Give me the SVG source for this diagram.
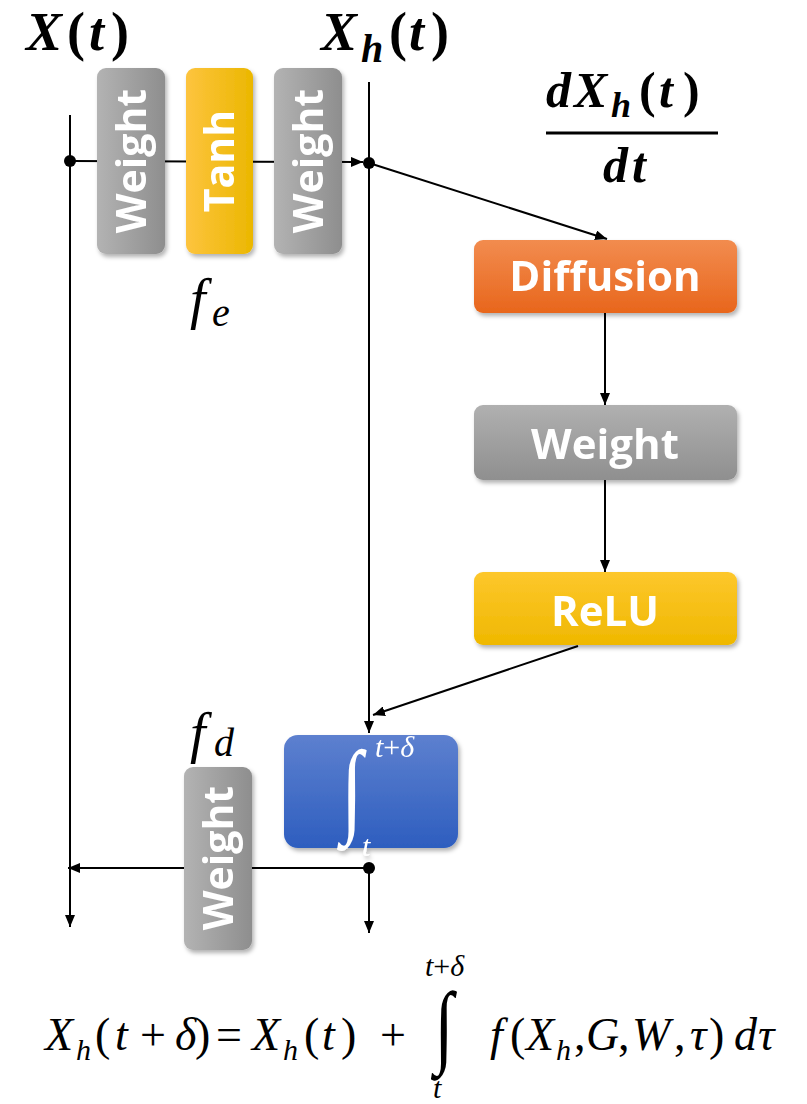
<svg xmlns="http://www.w3.org/2000/svg" width="807" height="1104" viewBox="0 0 807 1104">
<style>
.ln{stroke:#000;stroke-width:2;fill:none}
.lbl{font-family:"Open Sans","Noto Sans",sans-serif;font-weight:bold;fill:#fff}
.math{font-family:"Liberation Serif",serif;font-style:italic;fill:#000}
.mb{font-family:"Liberation Serif",serif;font-style:italic;font-weight:bold;fill:#000}
.rb{font-family:"Liberation Serif",serif;font-weight:bold;fill:#000}
.rm{font-family:"Liberation Serif",serif;fill:#000}
</style>
<defs>
<marker id="ah" viewBox="0 0 12 10" refX="12" refY="5" markerWidth="12" markerHeight="10" markerUnits="userSpaceOnUse" orient="auto">
<path d="M0,0 L12,5 L0,10 z" fill="#000"/>
</marker>
<filter id="sh" x="-20%" y="-20%" width="150%" height="150%">
<feDropShadow dx="2" dy="3" stdDeviation="2" flood-color="#000" flood-opacity="0.3"/>
</filter>
<linearGradient id="gv" x1="0" y1="0" x2="1" y2="0"><stop offset="0" stop-color="#b3b3b3"/><stop offset="1" stop-color="#8e8e8e"/></linearGradient>
<linearGradient id="gh" x1="0" y1="0" x2="0" y2="1"><stop offset="0" stop-color="#b0b0b0"/><stop offset="1" stop-color="#8f8f8f"/></linearGradient>
<linearGradient id="tanh" x1="0" y1="0" x2="1" y2="0"><stop offset="0" stop-color="#fdc43f"/><stop offset="1" stop-color="#ebb700"/></linearGradient>
<linearGradient id="relu" x1="0" y1="0" x2="0" y2="1"><stop offset="0" stop-color="#fdc72c"/><stop offset="1" stop-color="#efb800"/></linearGradient>
<linearGradient id="diff" x1="0" y1="0" x2="0" y2="1"><stop offset="0" stop-color="#f28c4f"/><stop offset="1" stop-color="#e8661c"/></linearGradient>
<linearGradient id="integ" x1="0" y1="0" x2="0" y2="1"><stop offset="0" stop-color="#5d80cf"/><stop offset="1" stop-color="#2e5ebf"/></linearGradient>
</defs>
<rect width="807" height="1104" fill="#fff"/>

<g id="connectors">
<line class="ln" x1="70" y1="115" x2="70" y2="927" marker-end="url(#ah)"/>
<line class="ln" x1="70" y1="161" x2="363" y2="162" marker-end="url(#ah)"/>
<line class="ln" x1="369" y1="82" x2="369" y2="733" marker-end="url(#ah)"/>
<line class="ln" x1="369" y1="163" x2="607" y2="239" marker-end="url(#ah)"/>
<line class="ln" x1="605" y1="313" x2="605" y2="405" marker-end="url(#ah)"/>
<line class="ln" x1="605" y1="480" x2="605" y2="572" marker-end="url(#ah)"/>
<line class="ln" x1="578" y1="646" x2="373" y2="715" marker-end="url(#ah)"/>
<line class="ln" x1="369" y1="868" x2="369" y2="933" marker-end="url(#ah)"/>
<line class="ln" x1="369" y1="868" x2="68" y2="868" marker-end="url(#ah)"/>
<circle cx="70" cy="161" r="6" fill="#000"/>
<circle cx="369" cy="163" r="6" fill="#000"/>
<circle cx="369" cy="868" r="6" fill="#000"/>
</g>

<g id="label-xt" font-size="54">
<text class="mb" x="26" y="50">X</text>
<text class="rb" x="67" y="50">(</text>
<text class="mb" x="89" y="50">t</text>
<text class="rb" x="111" y="50">)</text>
</g>
<g id="label-xht" font-size="54">
<text class="mb" x="321" y="50">X</text>
<text class="mb" x="361" y="62" font-size="40">h</text>
<text class="rb" x="389" y="50">(</text>
<text class="mb" x="409" y="50">t</text>
<text class="rb" x="431" y="50">)</text>
</g>
<g id="label-deriv" font-size="50">
<text class="mb" x="546" y="107">d</text>
<text class="mb" x="574" y="107">X</text>
<text class="mb" x="611" y="117" font-size="36">h</text>
<text class="rb" x="639" y="107">(</text>
<text class="mb" x="659" y="107">t</text>
<text class="rb" x="683" y="107">)</text>
<line x1="546" y1="133" x2="718" y2="133" stroke="#000" stroke-width="3"/>
<text class="mb" x="603" y="182">d</text>
<text class="mb" x="632" y="182">t</text>
</g>

<g id="enc-weight1" filter="url(#sh)">
<rect x="97" y="68" width="68" height="186" rx="9" fill="url(#gv)"/>
<text class="lbl" font-size="41" text-anchor="middle" transform="translate(146,161) rotate(-90)">Weight</text>
</g>
<g id="enc-tanh" filter="url(#sh)">
<rect x="186" y="68" width="67" height="186" rx="9" fill="url(#tanh)"/>
<text class="lbl" font-size="41" text-anchor="middle" transform="translate(234,161) rotate(-90)">Tanh</text>
</g>
<g id="enc-weight2" filter="url(#sh)">
<rect x="274" y="68" width="68" height="186" rx="9" fill="url(#gv)"/>
<text class="lbl" font-size="41" text-anchor="middle" transform="translate(323,161) rotate(-90)">Weight</text>
</g>
<g id="label-fe">
<text class="math" x="190" y="318" font-size="56">f</text>
<text class="math" x="212" y="326" font-size="40">e</text>
</g>

<g id="diffusion" filter="url(#sh)">
<rect x="474" y="240" width="263" height="73" rx="9" fill="url(#diff)"/>
<text class="lbl" x="605" y="291" font-size="42" text-anchor="middle">Diffusion</text>
</g>
<g id="weight-h" filter="url(#sh)">
<rect x="474" y="405" width="263" height="75" rx="9" fill="url(#gh)"/>
<text class="lbl" x="605" y="459" font-size="42" text-anchor="middle">Weight</text>
</g>
<g id="relu" filter="url(#sh)">
<rect x="474" y="572" width="263" height="73" rx="9" fill="url(#relu)"/>
<text class="lbl" x="605" y="626" font-size="42" text-anchor="middle">ReLU</text>
</g>

<g id="integrator" filter="url(#sh)">
<rect x="284" y="735" width="174" height="113" rx="14" fill="url(#integ)"/>
<text x="352" y="823" font-size="104" fill="#fff" font-family="Liberation Serif,serif" text-anchor="middle" transform="translate(352,0) scale(0.75,1) translate(-352,0)">∫</text>
<text x="375" y="757" font-size="30" fill="#fff" font-family="Liberation Serif,serif" font-style="italic">t<tspan font-style="normal">+</tspan>δ</text>
<text x="362" y="856" font-size="30" fill="#fff" font-family="Liberation Serif,serif" font-style="italic">t</text>
</g>

<g id="label-fd">
<text class="math" x="190" y="752" font-size="56">f</text>
<text class="math" x="214" y="756" font-size="40">d</text>
</g>
<g id="dec-weight" filter="url(#sh)">
<rect x="184" y="767" width="68" height="183" rx="9" fill="url(#gv)"/>
<text class="lbl" font-size="41" text-anchor="middle" transform="translate(233,858) rotate(-90)">Weight</text>
</g>

<g id="formula" font-size="46">
<text class="math" x="45" y="1050">X</text>
<text class="math" x="76" y="1060" font-size="30">h</text>
<text class="rm" x="95" y="1050">(</text>
<text class="math" x="115" y="1050">t</text>
<text class="rm" x="140" y="1050">+</text>
<text class="math" x="175" y="1050">δ</text>
<text class="rm" x="195" y="1050">)</text>
<text class="rm" x="216" y="1050">=</text>
<text class="math" x="252" y="1050">X</text>
<text class="math" x="283" y="1060" font-size="30">h</text>
<text class="rm" x="304" y="1050">(</text>
<text class="math" x="322" y="1050">t</text>
<text class="rm" x="341" y="1050">)</text>
<text class="rm" x="380" y="1050">+</text>
<text class="rm" x="444" y="1056" font-size="92" text-anchor="middle" transform="translate(444,0) scale(0.75,1) translate(-444,0)">∫</text>
<text class="math" x="425" y="976" font-size="30">t<tspan font-style="normal">+</tspan>δ</text>
<text class="math" x="433" y="1098" font-size="30">t</text>
<text class="math" x="490" y="1050">f</text>
<text class="rm" x="510" y="1050">(</text>
<text class="math" x="526" y="1050">X</text>
<text class="math" x="556" y="1060" font-size="30">h</text>
<text class="rm" x="574" y="1050">,</text>
<text class="math" x="586" y="1050">G</text>
<text class="rm" x="618" y="1050">,</text>
<text class="math" x="632" y="1050">W</text>
<text class="rm" x="674" y="1050">,</text>
<text class="math" x="690" y="1050">τ</text>
<text class="rm" x="709" y="1050">)</text>
<text class="math" x="734" y="1050">d</text>
<text class="math" x="758" y="1050">τ</text>
</g>
</svg>
